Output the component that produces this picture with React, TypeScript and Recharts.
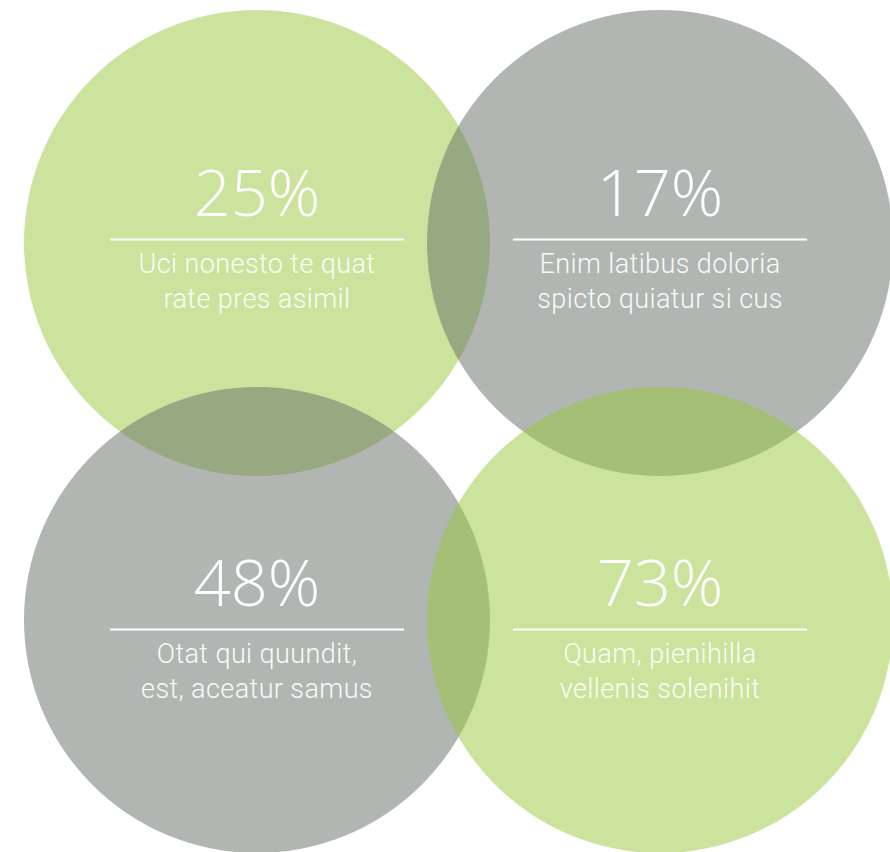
import React from 'react';
import { ScatterChart, Scatter, XAxis, YAxis } from 'recharts';

const percents = [25, 17, 48, 73];
const captionFirst = ['Uci nonesto te quat', 'Enim latibus doloria', 'Otat qui quundit,', 'Quam, pienihilla'];
const captionSecond = ['rate pres asimil', 'spicto quiatur si cus', 'est, aceatur samus', 'vellenis solenihit'];
const columns = [0, 1, 0, 1];
const rows = [0, 0, 1, 1];
const tones = ['green', 'gray', 'gray', 'green'];

const palette: Record<string, string> = {
  green: '#99c73b',
  gray: '#636d65',
};

const W = 890;
const H = 852;
const RADIUS = 233;

const data = percents.map((p, i) => ({
  col: columns[i],
  row: rows[i],
  pct: `${p}%`,
  line1: captionFirst[i],
  line2: captionSecond[i],
  tone: tones[i],
}));

function Bubble(props: any) {
  const { cx, cy, payload } = props;
  return <circle cx={cx} cy={cy} r={RADIUS} fill={palette[payload.tone]} fillOpacity={0.5} />;
}

function Caption(props: any) {
  const { cx, cy, payload } = props;
  // the text block sits a little lower on the bottom row
  const ly = cy + (payload.row === 0 ? -3.5 : 9.5);
  return (
    <g fill="#ffffff" textAnchor="middle">
      <text x={cx} y={ly - 24} fontSize={65} fontWeight={300} fontFamily='"Open Sans", Roboto, sans-serif'>{payload.pct}</text>
      <line x1={cx - 147} x2={cx + 147} y1={ly} y2={ly} stroke="#ffffff" strokeWidth={2} />
      <g fontFamily='Roboto, "Open Sans", sans-serif' fontSize={27} fontWeight={300} letterSpacing={0.4} fillOpacity={0.95}>
        <text x={cx} y={ly + 33}>{payload.line1}</text>
        <text x={cx} y={ly + 68.5}>{payload.line2}</text>
      </g>
    </g>
  );
}

export default function App() {
  return (
    <div style={{ position: 'absolute', left: 0, top: 0, width: W, height: H, background: '#ffffff', overflow: 'hidden' }}>
      <ScatterChart width={W} height={H} margin={{ top: 243, right: 230, bottom: 232, left: 257 }}>
        <XAxis type="number" dataKey="col" domain={[0, 1]} hide />
        <YAxis type="number" dataKey="row" domain={[0, 1]} reversed hide />
        <Scatter data={data} shape={<Bubble />} isAnimationActive={false} />
        <Scatter data={data} shape={<Caption />} isAnimationActive={false} />
      </ScatterChart>
    </div>
  );
}
